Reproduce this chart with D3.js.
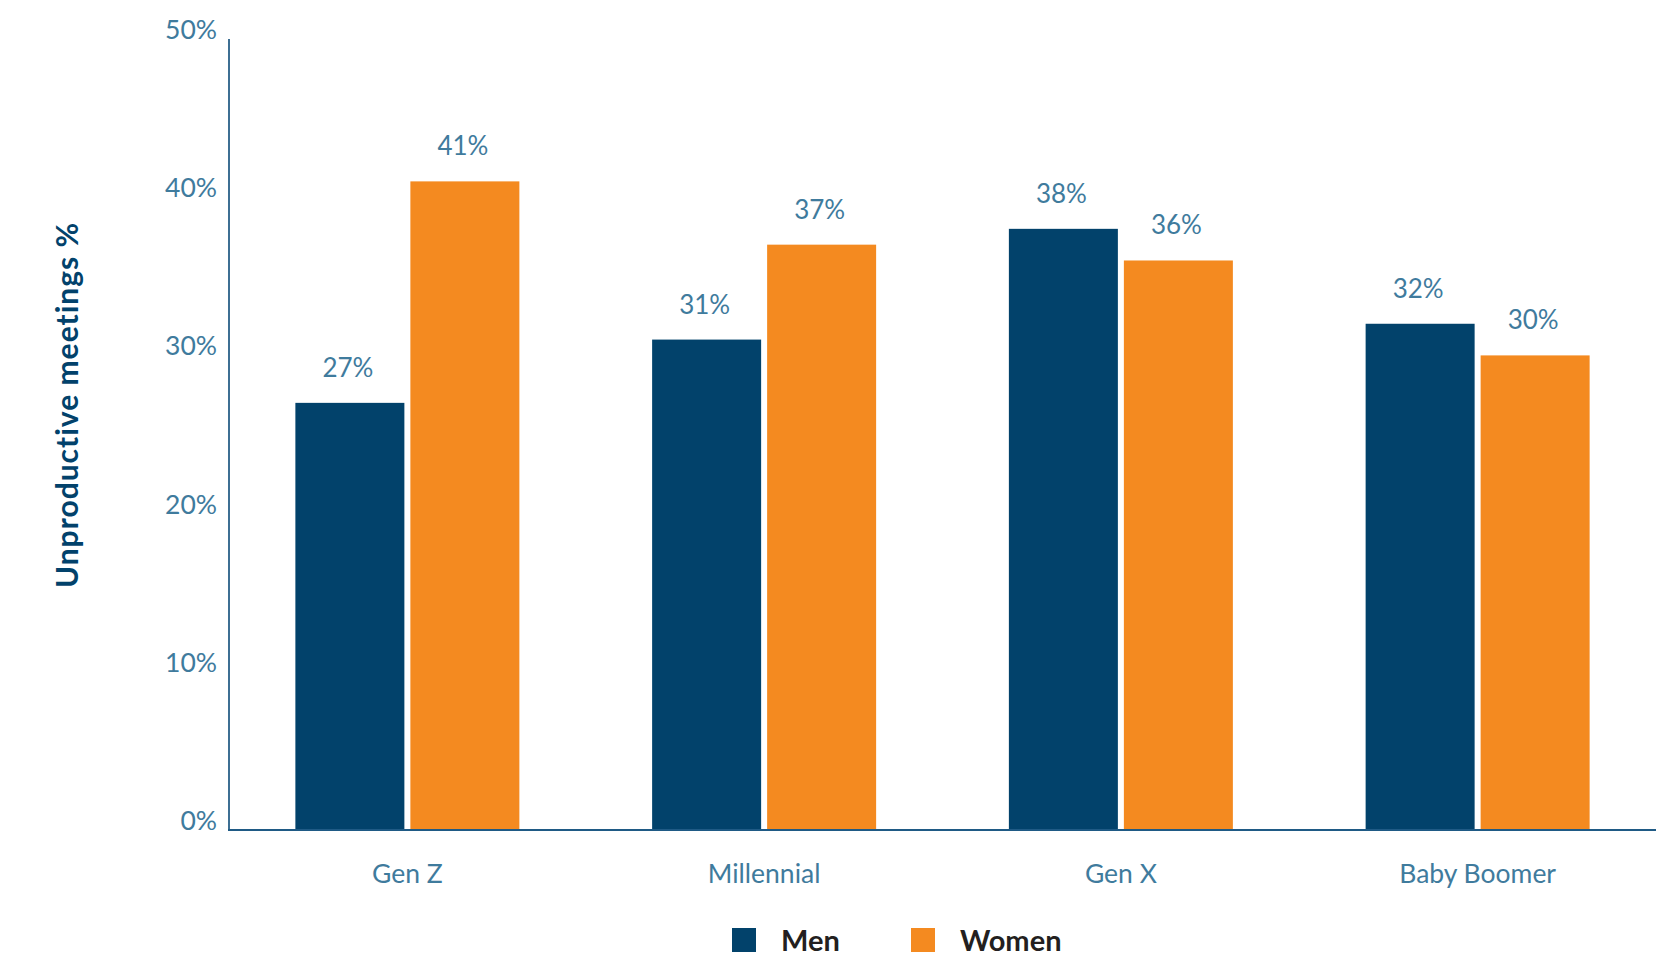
<!DOCTYPE html>
<html>
<head>
<meta charset="utf-8">
<script src="https://cdn.jsdelivr.net/npm/d3@7"></script>
<style>
  html, body { margin: 0; padding: 0; background: #fff; }
  svg { display: block; font-family: Lato, "Open Sans", sans-serif; }
</style>
</head>
<body>
<svg id="chart" width="1676" height="954"></svg>
<script>
const categories = ["Gen Z", "Millennial", "Gen X", "Baby Boomer"];
const seriesNames = ["Men", "Women"];
const menValues = [27, 31, 38, 32];
const womenValues = [41, 37, 36, 30];
const yTicks = [0, 10, 20, 30, 40, 50];
const seriesColors = ["#02426b", "#f48a20"];

const svg = d3.select("#chart");
const x0 = 229, x1 = 1656, yTop = 39, yBase = 830;

const x = d3.scaleBand().domain(categories).range([x0, x1]).paddingInner(0).paddingOuter(0);
const y = d3.scaleLinear().domain([0, 50]).range([yBase, yTop]);
const color = d3.scaleOrdinal().domain(seriesNames).range(seriesColors);

const barW = 109, gap = 6;
const data = categories.map((c, i) => ({cat: c, vals: [menValues[i], womenValues[i]]}));

const tickColor = "#3f7b9d";

// y axis line
svg.append("line").attr("x1", x0).attr("x2", x0).attr("y1", yTop).attr("y2", yBase)
  .attr("stroke", "#3d6f93").attr("stroke-width", 2);

// y tick labels
svg.append("g").selectAll("text").data(yTicks).join("text")
  .attr("x", x0 - 12).attr("y", d => y(d))
  .attr("text-anchor", "end")
  .attr("font-size", 26.5).attr("fill", tickColor)
  .text(d => d + "%");

// bars
const groups = svg.append("g").selectAll("g").data(data).join("g");
groups.each(function(d) {
  const g = d3.select(this);
  const cx = x(d.cat) + x.bandwidth() / 2;
  d.vals.forEach((v, j) => {
    const bx = j === 0 ? cx - gap / 2 - barW : cx + gap / 2;
    g.append("rect")
      .attr("x", bx).attr("y", y(v))
      .attr("width", barW).attr("height", y(0) - y(v))
      .attr("fill", color(seriesNames[j]));
    g.append("text")
      .attr("x", bx + barW / 2 - 2).attr("y", y(v) - 26)
      .attr("text-anchor", "middle")
      .attr("font-size", 26).attr("fill", tickColor)
      .text(v + "%");
  });
  g.append("text")
    .attr("x", cx).attr("y", 883)
    .attr("text-anchor", "middle")
    .attr("font-size", 26.5).attr("fill", tickColor)
    .text(d.cat);
});

// x axis line
svg.append("line").attr("x1", x0 - 1).attr("x2", x1).attr("y1", yBase).attr("y2", yBase)
  .attr("stroke", "#1f5a85").attr("stroke-width", 2);

// y axis title
svg.append("text")
  .attr("transform", `translate(78, 405) rotate(-90)`)
  .attr("text-anchor", "middle")
  .attr("font-size", 30).attr("font-weight", "bold").attr("fill", "#02426b")
  .attr("letter-spacing", 1)
  .text("Unproductive meetings %");

// legend
const legendX = [732, 911];
const lg = svg.append("g").selectAll("g").data(seriesNames).join("g")
  .attr("transform", (d, i) => `translate(${legendX[i]}, 928)`);
lg.append("rect").attr("width", 24).attr("height", 24).attr("fill", d => color(d));
lg.append("text").attr("x", 49).attr("y", 23)
  .attr("font-size", 29).attr("font-weight", "bold").attr("fill", "#231f20")
  .text(d => d);
</script>
</body>
</html>
